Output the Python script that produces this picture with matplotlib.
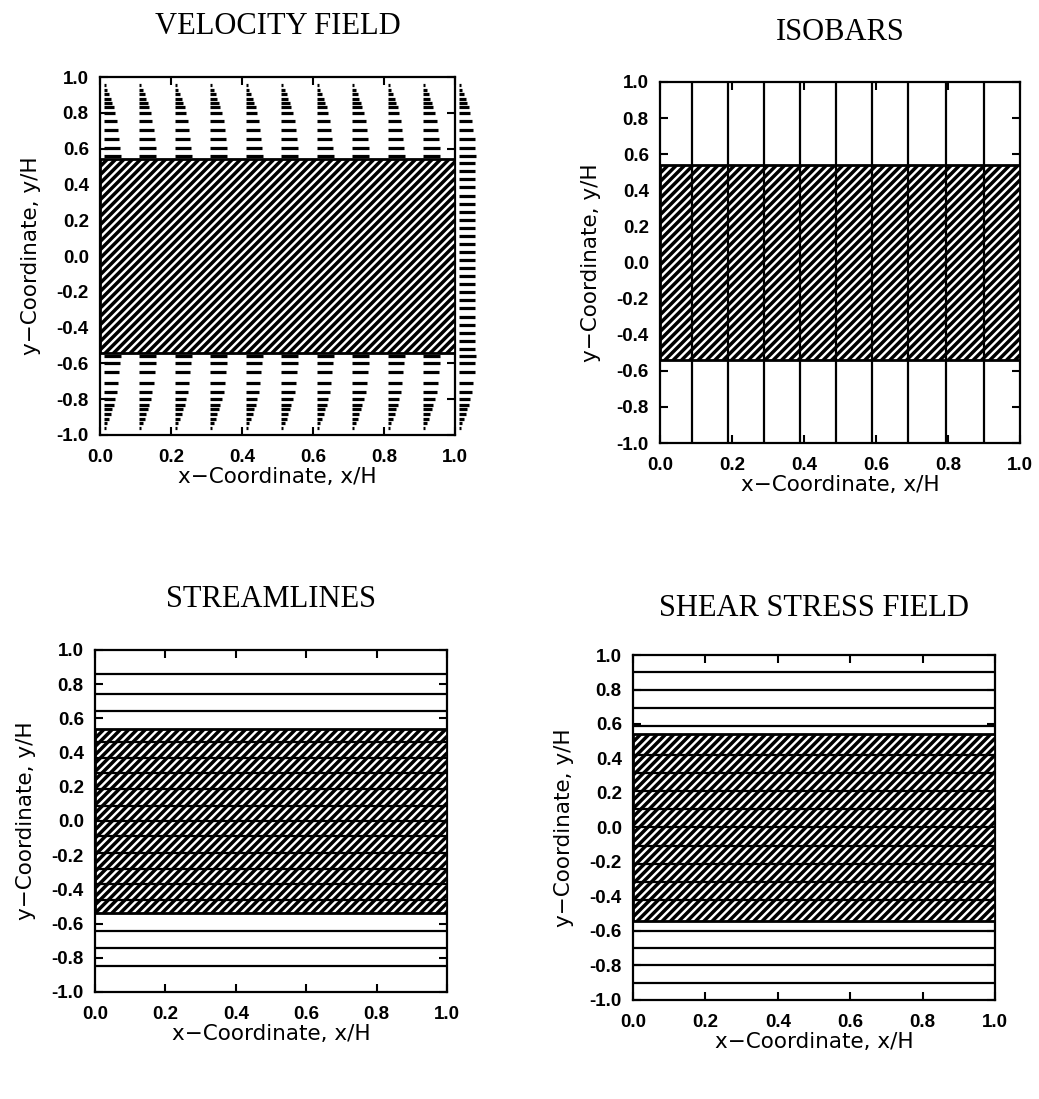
import matplotlib
matplotlib.use('Agg')
import matplotlib.pyplot as plt

plt.rcParams['font.family'] = 'DejaVu Sans'
plt.rcParams['hatch.linewidth'] = 2.5
plt.rcParams['hatch.color'] = 'black'

# --- axis ticks ---
x_ticks = [0.0, 0.2, 0.4, 0.6, 0.8, 1.0]
x_tick_labels = ['0.0', '0.2', '0.4', '0.6', '0.8', '1.0']
y_ticks = [-1.0, -0.8, -0.6, -0.4, -0.2, 0.0, 0.2, 0.4, 0.6, 0.8, 1.0]
y_tick_labels = ['-1.0', '-0.8', '-0.6', '-0.4', '-0.2', '0.0', '0.2', '0.4', '0.6', '0.8', '1.0']
x_range = [0.0, 1.0]

# hatched core layer (interfaces)
core_lower = -0.54
core_upper = 0.54

# --- velocity field: node columns, row positions, vector lengths ---
vel_cols = [0.01, 0.11, 0.21, 0.31, 0.41, 0.51, 0.61, 0.71, 0.81, 0.91, 1.01]
rows_upper = [0.56, 0.605, 0.655, 0.705, 0.755, 0.80, 0.83, 0.855, 0.88, 0.905, 0.93, 0.955]
u_upper = [0.048, 0.047, 0.045, 0.042, 0.038, 0.033, 0.029, 0.025, 0.021, 0.016, 0.011, 0.006]
rows_lower = [-0.56, -0.60, -0.65, -0.71, -0.76, -0.80, -0.83, -0.855, -0.88, -0.91, -0.935, -0.96]
u_lower = [0.048, 0.047, 0.045, 0.042, 0.038, 0.033, 0.029, 0.025, 0.021, 0.016, 0.011, 0.006]
rows_core = [0.518, 0.473, 0.428, 0.383, 0.338, 0.293, 0.248, 0.203, 0.158, 0.113, 0.068, 0.023,
             -0.023, -0.068, -0.113, -0.158, -0.203, -0.248, -0.293, -0.338, -0.383, -0.428, -0.473, -0.518]
u_core = [0.047, 0.046, 0.046, 0.045, 0.046, 0.046, 0.045, 0.046, 0.046, 0.045, 0.046, 0.046,
          0.046, 0.046, 0.045, 0.046, 0.046, 0.045, 0.046, 0.046, 0.045, 0.046, 0.046, 0.047]

# --- isobars (x positions) ---
isobar_x = [0.09, 0.19, 0.29, 0.39, 0.49, 0.59, 0.69, 0.795, 0.90]

# --- streamlines (y positions) ---
stream_outer = [0.86, 0.745, 0.645, -0.645, -0.745, -0.85]
stream_core = [0.46, 0.37, 0.28, 0.185, 0.09, 0.0, -0.09, -0.185, -0.28, -0.37, -0.46]

# --- shear stress contours (y positions) ---
shear_outer = [0.90, 0.80, 0.69, 0.59, -0.60, -0.70, -0.80, -0.90]
shear_core = [0.42, 0.315, 0.21, 0.105, 0.0, -0.105, -0.21, -0.315, -0.42]


def style(ax, title, pad):
    ax.set_xlim(0, 1)
    ax.set_ylim(-1, 1)
    ax.set_xticks(x_ticks, x_tick_labels)
    ax.set_yticks(y_ticks, y_tick_labels)
    ax.tick_params(direction='in', top=True, right=True, length=6, width=1.5)
    ax.tick_params(axis='x', pad=10)
    ax.tick_params(axis='y', pad=8)
    for lab in ax.get_xticklabels() + ax.get_yticklabels():
        lab.set_family('Liberation Sans')
        lab.set_weight('bold')
        lab.set_fontsize(13.5)
    for s in ax.spines.values():
        s.set_linewidth(1.6)
    ax.set_xlabel('x\u2212Coordinate, x/H', fontsize=15.5, labelpad=1)
    ax.set_ylabel('y\u2212Coordinate, y/H', fontsize=15.5, labelpad=11)
    ax.set_title(title, family='Liberation Serif', fontsize=22, pad=pad)


def core_band(ax):
    ax.axhspan(core_lower, core_upper, facecolor='white', edgecolor='black',
               hatch='////', linewidth=2.0, zorder=3)


fig = plt.figure(figsize=(10.39, 10.99), dpi=100)
ax1 = fig.add_axes([0.0962, 0.6042, 0.3417, 0.3257])
ax2 = fig.add_axes([0.6352, 0.5969, 0.3465, 0.3285])
ax3 = fig.add_axes([0.0914, 0.0974, 0.3388, 0.3112])
ax4 = fig.add_axes([0.6092, 0.0901, 0.3484, 0.3139])

# velocity field
for xc in vel_cols:
    for rows, u in ((rows_upper, u_upper), (rows_lower, u_lower), (rows_core, u_core)):
        ax1.hlines(rows, xc, [xc + v for v in u], color='black', lw=2.3,
                   capstyle='butt', clip_on=False, zorder=2)
core_band(ax1)
style(ax1, 'VELOCITY FIELD', 31)

# isobars
core_band(ax2)
ax2.vlines(isobar_x, -1, 1, color='black', lw=1.6, zorder=4)
style(ax2, 'ISOBARS', 30)

# streamlines
core_band(ax3)
ax3.hlines(stream_outer, x_range[0], x_range[1], color='black', lw=1.6, zorder=4)
ax3.hlines(stream_core, x_range[0], x_range[1], color='black', lw=1.6, zorder=4)
style(ax3, 'STREAMLINES', 31)

# shear stress
core_band(ax4)
ax4.hlines(shear_outer, x_range[0], x_range[1], color='black', lw=1.6, zorder=4)
ax4.hlines(shear_core, x_range[0], x_range[1], color='black', lw=1.6, zorder=4)
style(ax4, 'SHEAR STRESS FIELD', 28)

fig.savefig('out.png', dpi=100)
